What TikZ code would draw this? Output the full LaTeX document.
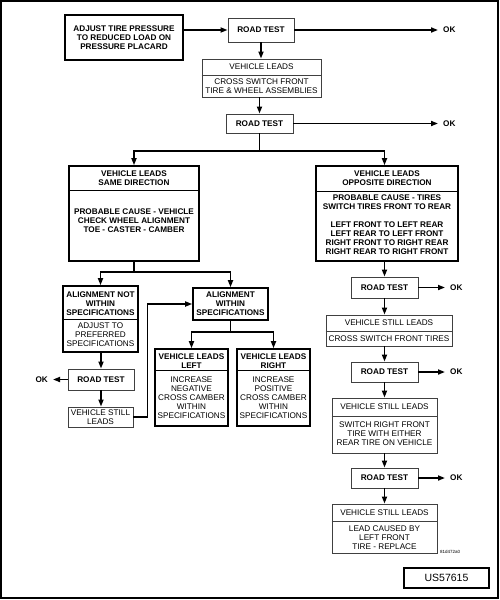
\documentclass[tikz,border=0pt]{standalone}
\usepackage{fontspec}
\setmainfont{Liberation Sans}
\usetikzlibrary{arrows.meta}
\begin{document}
\begin{tikzpicture}[x=1pt,y=-1pt,
  thickbox/.style={draw=black, line width=1.6pt, inner sep=0pt},
  thinbox/.style={draw=black!75, line width=0.9pt, inner sep=0pt},
  bt/.style={font=\fontsize{8.2}{9}\selectfont\bfseries, align=center, inner sep=0pt},
  nt/.style={font=\fontsize{8.2}{9}\selectfont, align=center, inner sep=0pt},
  divthick/.style={draw=black, line width=0.9pt},
  divthin/.style={draw=black!75, line width=0.9pt},
  conn/.style={draw=black, line width=1.6pt},
  arr/.style={conn, -{Triangle[length=7pt,width=5pt]}},
  oknode/.style={font=\fontsize{8.2}{9}\selectfont\bfseries, inner xsep=5pt, inner ysep=0pt},
]
\useasboundingbox (0,0) rectangle (500,600);
\draw[line width=1.8pt] (1,1) rectangle (498,598);

% top column
\node[thickbox, bt, minimum width=118pt, minimum height=45pt] (adjust) at (124,37.5) {ADJUST TIRE PRESSURE\\TO REDUCED LOAD ON\\PRESSURE PLACARD};
\node[thinbox, bt, minimum width=66pt, minimum height=24pt] (rt1) at (261,30) {ROAD TEST};
\node[oknode, anchor=west] (ok1) at (438,30) {OK};

\node[thinbox, minimum width=119pt, minimum height=38pt] (vl1) at (261.5,78) {};
\draw[divthin] (vl1.west |- 0,75) -- (vl1.east |- 0,75);
\node[nt] (vl1h) at (261.5,67) {VEHICLE LEADS};
\node[nt] (vl1b) at (261.5,86.5) {CROSS SWITCH FRONT\\TIRE \& WHEEL ASSEMBLIES};

\node[thinbox, bt, minimum width=67pt, minimum height=19pt] (rt2) at (259.5,123.5) {ROAD TEST};
\node[oknode, anchor=west] (ok2) at (438,123.5) {OK};

% big boxes
\node[thickbox, minimum width=130pt, minimum height=95pt] (same) at (134,213.5) {};
\draw[divthick] (same.west |- 0,190) -- (same.east |- 0,190);
\node[bt] (sameh) at (134,178.5) {VEHICLE LEADS\\SAME DIRECTION};
\node[bt] (sameb) at (134,221) {PROBABLE CAUSE - VEHICLE\\CHECK WHEEL ALIGNMENT\\TOE - CASTER - CAMBER};

\node[thickbox, minimum width=142pt, minimum height=95pt] (opp) at (387,213.5) {};
\draw[divthick] (opp.west |- 0,191) -- (opp.east |- 0,191);
\node[bt] (opph) at (387,178.5) {VEHICLE LEADS\\OPPOSITE DIRECTION};
\node[bt] (oppb) at (387,225) {PROBABLE CAUSE - TIRES\\SWITCH TIRES FRONT TO REAR\\[9pt]LEFT FRONT TO LEFT REAR\\LEFT REAR TO LEFT FRONT\\RIGHT FRONT TO RIGHT REAR\\RIGHT REAR TO RIGHT FRONT};

% left branch
\node[thickbox, minimum width=75pt, minimum height=66pt] (anot) at (100.5,319) {};
\draw[divthick] (anot.west |- 0,319) -- (anot.east |- 0,319);
\node[bt] (anoth) at (100.5,304) {ALIGNMENT NOT\\WITHIN\\SPECIFICATIONS};
\node[nt] (anotb) at (100.5,335) {ADJUST TO\\PREFERRED\\SPECIFICATIONS};

\node[thinbox, bt, minimum width=66pt, minimum height=21pt] (rtL) at (101,379.5) {ROAD TEST};
\node[oknode, anchor=east] (okL) at (53,379.5) {OK};
\node[thinbox, nt, minimum width=65pt, minimum height=20pt] (vslL) at (100.5,417) {VEHICLE STILL\\LEADS};

\node[thickbox, bt, minimum width=75pt, minimum height=32pt] (awithin) at (230.5,304) {ALIGNMENT\\WITHIN\\SPECIFICATIONS};

\node[thickbox, minimum width=73pt, minimum height=77pt] (vleft) at (191.5,387.5) {};
\draw[divthick] (vleft.west |- 0,370) -- (vleft.east |- 0,370);
\node[bt] (vlefth) at (191.5,361.5) {VEHICLE LEADS\\LEFT};
\node[nt] (vleftb) at (191.5,397.5) {INCREASE\\NEGATIVE\\CROSS CAMBER\\WITHIN\\SPECIFICATIONS};

\node[thickbox, minimum width=73pt, minimum height=77pt] (vright) at (273.5,387.5) {};
\draw[divthick] (vright.west |- 0,370) -- (vright.east |- 0,370);
\node[bt] (vrighth) at (273.5,361.5) {VEHICLE LEADS\\RIGHT};
\node[nt] (vrightb) at (273.5,397.5) {INCREASE\\POSITIVE\\CROSS CAMBER\\WITHIN\\SPECIFICATIONS};

% right branch
\node[thinbox, bt, minimum width=67pt, minimum height=21pt] (rt3) at (384.5,287.5) {ROAD TEST};
\node[oknode, anchor=west] (ok3) at (445,287.5) {OK};

\node[thinbox, minimum width=126pt, minimum height=31pt] (vsl2) at (389,330.5) {};
\draw[divthin] (vsl2.west |- 0,331) -- (vsl2.east |- 0,331);
\node[nt] (vsl2h) at (389,323) {VEHICLE STILL LEADS};
\node[nt] (vsl2b) at (389,338.5) {CROSS SWITCH FRONT TIRES};

\node[thinbox, bt, minimum width=67pt, minimum height=20pt] (rt4) at (384.5,372) {ROAD TEST};
\node[oknode, anchor=west] (ok4) at (445,372) {OK};

\node[thinbox, minimum width=105pt, minimum height=55pt] (vsl3) at (384.5,425.5) {};
\draw[divthin] (vsl3.west |- 0,416) -- (vsl3.east |- 0,416);
\node[nt] (vsl3h) at (384.5,407) {VEHICLE STILL LEADS};
\node[nt] (vsl3b) at (384.5,434) {SWITCH RIGHT FRONT\\TIRE WITH EITHER\\REAR TIRE ON VEHICLE};

\node[thinbox, bt, minimum width=67pt, minimum height=20pt] (rt5) at (384.5,478) {ROAD TEST};
\node[oknode, anchor=west] (ok5) at (445,478) {OK};

\node[thinbox, minimum width=105pt, minimum height=49pt] (vsl4) at (384.5,528.5) {};
\draw[divthin] (vsl4.west |- 0,521) -- (vsl4.east |- 0,521);
\node[nt] (vsl4h) at (384.5,512.5) {VEHICLE STILL LEADS};
\node[nt] (vsl4b) at (384.5,538) {LEAD CAUSED BY\\LEFT FRONT\\TIRE - REPLACE};

\node[font=\fontsize{4.5}{5}\selectfont, inner sep=0pt, anchor=west] (code) at (440,552) {81d472a0};
\node[draw=black, line width=1.8pt, font=\fontsize{10.5}{12}\selectfont, minimum width=85pt, minimum height=20pt, inner sep=0pt] (us) at (446.5,578) {US57615};

% connectors
\draw[arr] (adjust.east |- rt1.west) -- (rt1.west);
\draw[arr] (rt1) -- (ok1);
\draw[arr] (rt1.south) -- (rt1.south |- vl1.north);
\draw[arr] (vl1.south -| rt2.north) -- (rt2.north);
\draw[arr] (rt2) -- (ok2);
\coordinate (j1) at (rt2.south |- 0,151);
\draw[conn] (rt2.south) -- (j1);
\draw[arr] (j1) -| (same.north);
\draw[arr] (j1) -| (rt3.north |- opp.north);

\draw[arr] (opp.south -| rt3.north) -- (rt3.north);
\draw[arr] (rt3) -- (ok3);
\draw[arr] (rt3.south) -- (rt3.south |- vsl2.north);
\draw[arr] (vsl2.south -| rt4.north) -- (rt4.north);
\draw[arr] (rt4) -- (ok4);
\draw[arr] (rt4.south) -- (rt4.south |- vsl3.north);
\draw[arr] (vsl3.south -| rt5.north) -- (rt5.north);
\draw[arr] (rt5) -- (ok5);
\draw[arr] (rt5.south) -- (rt5.south |- vsl4.north);

\coordinate (j2) at (same.south |- 0,272);
\draw[conn] (same.south) -- (j2);
\draw[arr] (j2) -| (anot.north);
\draw[arr] (j2) -| (awithin.north);
\draw[arr] (anot.south -| rtL.north) -- (rtL.north);
\draw[arr] (rtL) -- (okL);
\draw[arr] (rtL.south) -- (rtL.south |- vslL.north);
\draw[arr] (vslL.east) -- ++(14,0) |- (awithin.west);
\coordinate (j3) at (awithin.south |- 0,332);
\draw[conn] (awithin.south) -- (j3);
\draw[arr] (j3) -| (vleft.north);
\draw[arr] (j3) -| (vright.north);
\end{tikzpicture}
\end{document}
